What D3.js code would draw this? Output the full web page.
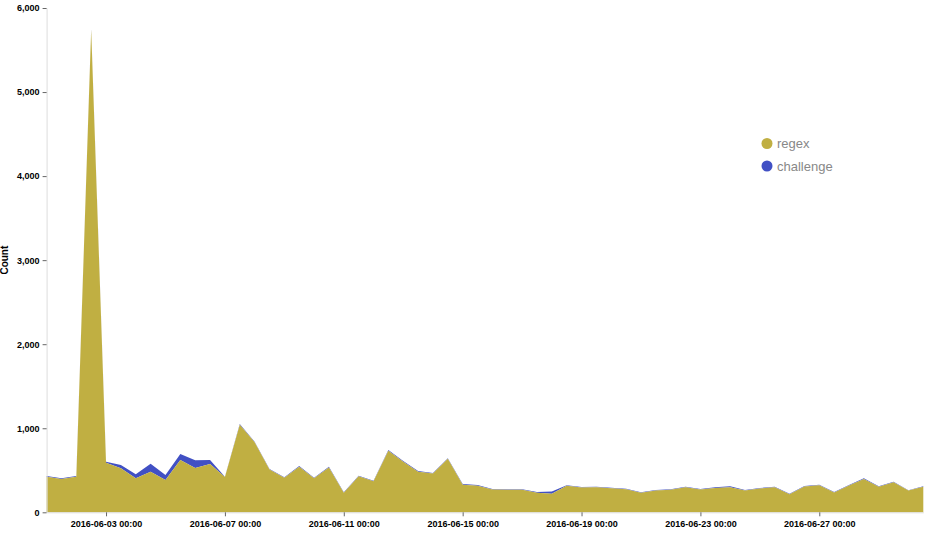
<!DOCTYPE html>
<html>
<head>
<meta charset="utf-8">
<script src="https://cdn.jsdelivr.net/npm/d3@7"></script>
<style>
  body { margin: 0; background: #fff; font-family: "Liberation Sans", Arial, sans-serif; }
  .axis text { font-size: 9px; fill: #000; font-weight: bold; }
  .y-axis .domain { stroke: #ddd; }
  .x-axis .domain { stroke: #ddd; }
  .axis .tick line { stroke: #666; }
</style>
</head>
<body>
<div id="container"></div>
<script>
// define constants
const WIDTH = 926;
const HEIGHT = 535;
const LEFT = 46.6;
const RIGHT = 923.3;
const TOP = 8;
const BOTTOM = 512.3;

// 12-hourly buckets, 2016-06-01 00:00 .. 2016-06-30 12:00
const START = new Date(2016, 5, 1, 0, 0);
const END = new Date(2016, 5, 30, 12, 0);
const dates = d3.timeHour.range(START, d3.timeHour.offset(END, 1), 12);

const seriesNames = ["regex", "challenge"];
const seriesColors = ["#c0af42", "#4150c4"];

const regex = [424, 396, 424, 5740, 590, 523, 404, 483, 384, 622,
    528, 575, 419, 1042, 832, 509, 411, 543, 404, 533,
    232, 428, 368, 731, 600, 483, 462, 636, 329, 315,
    271, 267, 267, 233, 222, 315, 295, 299, 287, 275,
    234, 259, 267, 297, 271, 289, 299, 259, 283, 299,
    216, 307, 323, 237, 319, 396, 303, 358, 258, 303];

const challenge = [8, 8, 8, 10, 12, 40, 48, 95, 60, 72,
    90, 47, 5, 8, 8, 6, 6, 8, 8, 10,
    6, 8, 8, 10, 10, 8, 6, 6, 8, 10,
    6, 6, 6, 8, 24, 6, 6, 6, 6, 6,
    4, 6, 6, 8, 6, 8, 10, 6, 6, 6,
    6, 6, 6, 4, 6, 8, 6, 6, 4, 6];

const yTicks = [0, 1000, 2000, 3000, 4000, 5000, 6000];
const xTicks = ["2016-06-03", "2016-06-07", "2016-06-11", "2016-06-15",
    "2016-06-19", "2016-06-23", "2016-06-27"];

// build rows for the stack
const rows = dates.map((d, i) => ({ date: d, regex: regex[i], challenge: challenge[i] }));

const canvas = d3.select("#container")
    .append("svg")
    .attr("width", WIDTH)
    .attr("height", HEIGHT);

const xScale = d3.scaleTime()
    .domain([START, END])
    .range([LEFT, RIGHT]);

const yScale = d3.scaleLinear()
    .domain([0, 6000])
    .range([BOTTOM, TOP]);

const color = d3.scaleOrdinal().domain(seriesNames).range(seriesColors);

const stacked = d3.stack().keys(seriesNames)(rows);

const area = d3.area()
    .x((d) => xScale(d.data.date))
    .y0((d) => yScale(d[0]))
    .y1((d) => yScale(d[1]));

// draw areas, challenge first so regex sits on top of its own band
canvas.selectAll("path.layer")
    .data(stacked.slice().reverse())
    .enter()
    .append("path")
    .attr("class", "layer")
    .attr("fill", (d) => color(d.key))
    .attr("d", area);

// x axis
const parseDay = d3.timeParse("%Y-%m-%d");
const bottomAxis = d3.axisBottom(xScale)
    .tickValues(xTicks.map(parseDay))
    .tickSize(4)
    .tickSizeOuter(0)
    .tickFormat(d3.timeFormat("%Y-%m-%d %H:%M"));

canvas.append("g")
    .attr("class", "axis x-axis")
    .attr("transform", "translate(0," + BOTTOM + ")")
    .call(bottomAxis)
    .selectAll("text")
    .attr("dy", "0.9em");

// y axis
const leftAxis = d3.axisLeft(yScale)
    .tickValues(yTicks)
    .tickSize(4)
    .tickSizeOuter(0)
    .tickFormat(d3.format(","));

canvas.append("g")
    .attr("class", "axis y-axis")
    .attr("transform", "translate(" + LEFT + ",0)")
    .call(leftAxis)
    .selectAll("text")
    .attr("x", -7);

// label y axis
canvas.append("text")
    .attr("transform", "translate(8," + (TOP + BOTTOM) / 2 + ") rotate(-90)")
    .attr("text-anchor", "middle")
    .attr("font-size", "10px")
    .attr("font-weight", "bold")
    .text("Count");

// legend
const legend = canvas.selectAll("g.legend")
    .data(seriesNames)
    .enter()
    .append("g")
    .attr("class", "legend")
    .attr("transform", (d, i) => "translate(767," + (143.5 + i * 22.5) + ")");

legend.append("circle")
    .attr("r", 5.5)
    .attr("fill", (d) => color(d));

legend.append("text")
    .attr("x", 10)
    .attr("dy", "0.35em")
    .attr("font-size", "13px")
    .attr("fill", "#888")
    .text((d) => d);
</script>
</body>
</html>
